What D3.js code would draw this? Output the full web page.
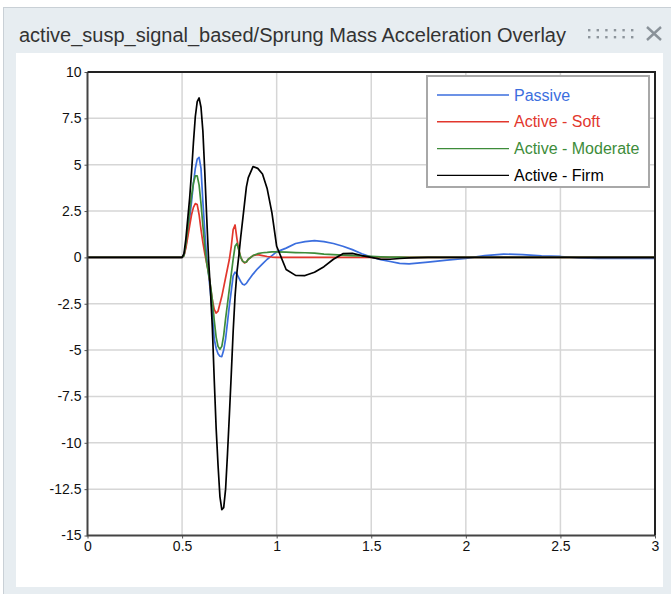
<!DOCTYPE html>
<html>
<head>
<meta charset="utf-8">
<script src="https://cdn.jsdelivr.net/npm/d3@7"></script>
<style>
  html, body { margin: 0; padding: 0; background: #fff; }
  svg { display: block; font-family: Arial, "Liberation Sans", sans-serif; }
</style>
</head>
<body>
<div id="chart"></div>
<script>
var title = "active_susp_signal_based/Sprung Mass Acceleration Overlay";
var seriesNames = ["Passive", "Active - Soft", "Active - Moderate", "Active - Firm"];
var seriesColors = ["#3b6ede", "#e2372d", "#3d8c3a", "#000000"];
var xTicks = [0, 0.5, 1, 1.5, 2, 2.5, 3];
var yTicks = [10, 7.5, 5, 2.5, 0, -2.5, -5, -7.5, -10, -12.5, -15];

// time (s)
var time = [0, 0.50, 0.51, 0.52, 0.53, 0.54, 0.55, 0.56, 0.57, 0.58, 0.59,
    0.60, 0.61, 0.62, 0.63, 0.64, 0.65, 0.66, 0.67, 0.68, 0.69,
    0.70, 0.71, 0.72, 0.73, 0.74, 0.75, 0.76, 0.77, 0.78, 0.79,
    0.80, 0.81, 0.82, 0.83, 0.84, 0.85, 0.875, 0.90, 0.925, 0.95, 0.975,
    1.00, 1.05, 1.10, 1.15, 1.20, 1.25, 1.30, 1.35, 1.40, 1.45,
    1.50, 1.55, 1.60, 1.65, 1.70, 1.80, 1.90, 2.00, 2.10, 2.20,
    2.30, 2.40, 2.50, 2.60, 2.70, 2.80, 2.90, 3.00];

var passive = [0, 0, 0.1, 0.6, 1.3, 2.1, 3.0, 4.0, 4.8, 5.3, 5.4,
    4.8, 3.0, 1.4, 0.0, -0.9, -1.9, -3.0, -4.4, -4.9, -5.2,
    -5.33, -5.35, -5.0, -4.4, -3.5, -2.6, -1.8, -1.0, -0.8, -0.9,
    -1.1, -1.3, -1.45, -1.48, -1.4, -1.25, -0.9, -0.6, -0.35, -0.1, 0.1,
    0.3, 0.5, 0.75, 0.85, 0.9, 0.85, 0.75, 0.6, 0.42, 0.2,
    0.02, -0.12, -0.22, -0.32, -0.35, -0.25, -0.15, -0.05, 0.1, 0.18,
    0.15, 0.08, 0.05, -0.03, -0.05, -0.05, -0.05, -0.05];

var soft = [0, 0, 0.1, 0.5, 1.1, 1.7, 2.3, 2.7, 2.9, 2.85, 2.3,
    1.5, 0.8, 0.2, -0.3, -0.8, -1.6, -2.3, -2.8, -3.0, -2.9,
    -2.5, -2.1, -1.6, -1.1, -0.6, -0.1, 0.6, 1.5, 1.75, 1.0,
    0.4, 0.0, -0.2, -0.3, -0.25, -0.1, 0.1, 0.15, 0.1, 0.05, 0.02,
    0, 0, 0, 0, 0, 0, 0, 0, 0, 0,
    0, 0, 0, 0, 0, 0, 0, 0, 0, 0,
    0, 0, 0, 0, 0, 0, 0, 0];

var moderate = [0, 0, 0.1, 0.7, 1.6, 2.5, 3.3, 4.0, 4.4, 4.4, 3.9,
    2.9, 1.7, 0.6, -0.3, -0.9, -1.5, -2.3, -3.4, -4.3, -4.8,
    -4.95, -4.8, -4.2, -3.3, -2.5, -1.7, -0.9, -0.1, 0.6, 0.75,
    0.4, 0.0, -0.2, -0.27, -0.25, -0.1, 0.1, 0.2, 0.25, 0.27, 0.3,
    0.3, 0.28, 0.26, 0.25, 0.23, 0.18, 0.15, 0.12, 0.1, 0.08,
    0.05, 0.03, 0.02, 0.01, 0, 0, 0, 0, 0, 0,
    0, 0, 0, 0, 0, 0, 0, 0];

var firm = [0, 0, 0.2, 1.0, 2.1, 3.2, 4.6, 6.2, 7.6, 8.4, 8.6,
    8.1, 6.8, 4.6, 2.2, -0.1, -1.8, -3.8, -6.6, -9.2, -11.2,
    -12.9, -13.6, -13.5, -12.5, -10.6, -8.5, -6.3, -4.0, -2.1, -0.8,
    0.1, 1.1, 2.0, 2.9, 3.8, 4.3, 4.9, 4.8, 4.5, 3.7, 2.4,
    0.6, -0.65, -0.97, -0.98, -0.8, -0.5, -0.1, 0.2, 0.22, 0.1,
    0.0, -0.1, -0.1, -0.06, -0.03, 0, 0, 0, 0, 0,
    0, 0, 0, 0, 0, 0, 0, 0];

var seriesValues = [passive, soft, moderate, firm];

var W = 671, H = 594;
var plot = {left: 87.5, right: 655, top: 72, bottom: 535.5};

var svg = d3.select("#chart").append("svg")
    .attr("width", W)
    .attr("height", H);

// window frame
svg.append("rect")
    .attr("x", 3.5).attr("y", 7.5)
    .attr("width", W).attr("height", H)
    .attr("fill", "#e7edf1")
    .attr("stroke", "#c9d0d6")
    .attr("stroke-width", 1);
svg.append("rect")
    .attr("x", 16).attr("y", 53)
    .attr("width", 647).attr("height", 534)
    .attr("fill", "#fff");

svg.append("text")
    .attr("x", 19).attr("y", 42)
    .attr("font-size", 20)
    .attr("fill", "#333")
    .text(title);

// grip dots and close icon
var grip = svg.append("g").attr("fill", "#8d959c");
[0, 1, 2, 3, 4, 5].forEach(function (c) {
    [30, 37].forEach(function (r) {
        grip.append("rect")
            .attr("x", 588 + c * 8.6).attr("y", r - 1)
            .attr("width", 2.4).attr("height", 2.4);
    });
});
svg.append("path")
    .attr("d", "M647,27L661,40M661,27L647,40")
    .attr("stroke", "#8a9299")
    .attr("stroke-width", 2.4)
    .attr("fill", "none");

var x = d3.scaleLinear().domain([0, 3]).range([plot.left, plot.right]);
var y = d3.scaleLinear().domain([-15, 10]).range([plot.bottom, plot.top]);

// grid
var grid = svg.append("g").attr("stroke", "#d6d6d6").attr("stroke-width", 1.5);
grid.selectAll(".vx").data(xTicks.slice(1, -1)).enter().append("line")
    .attr("x1", function (d) { return x(d); })
    .attr("x2", function (d) { return x(d); })
    .attr("y1", plot.top).attr("y2", plot.bottom);
grid.selectAll(".hy").data(yTicks.slice(1, -1)).enter().append("line")
    .attr("y1", function (d) { return y(d); })
    .attr("y2", function (d) { return y(d); })
    .attr("x1", plot.left).attr("x2", plot.right);

svg.append("clipPath").attr("id", "clip")
    .append("rect")
    .attr("x", plot.left).attr("y", plot.top)
    .attr("width", plot.right - plot.left)
    .attr("height", plot.bottom - plot.top);

var line = d3.line()
    .x(function (d, i) { return x(time[i]); })
    .y(function (d) { return y(d); });

svg.append("g").attr("clip-path", "url(#clip)")
    .selectAll("path")
    .data(seriesValues).enter()
    .append("path")
    .attr("d", line)
    .attr("fill", "none")
    .attr("stroke", function (d, i) { return seriesColors[i]; })
    .attr("stroke-width", 1.7)
    .attr("stroke-linejoin", "round");

// axes
var xAxis = svg.append("g")
    .attr("transform", "translate(0," + plot.bottom + ")")
    .call(d3.axisBottom(x).tickValues(xTicks).tickSize(3).tickPadding(3)
        .tickFormat(function (d) { return String(d); }));
var yAxis = svg.append("g")
    .attr("transform", "translate(" + plot.left + ",0)")
    .call(d3.axisLeft(y).tickValues(yTicks).tickSize(3).tickPadding(3)
        .tickFormat(function (d) { return String(d); }));
[xAxis, yAxis].forEach(function (a) {
    a.select(".domain").remove();
    a.selectAll(".tick line").attr("stroke", "#555");
    a.selectAll(".tick text")
        .attr("font-size", 14)
        .attr("font-family", "Arial, 'Liberation Sans', sans-serif")
        .attr("fill", "#111");
});

// frame
svg.append("path")
    .attr("d", "M" + plot.left + "," + plot.top + "V" + plot.bottom + "H" + plot.right)
    .attr("stroke", "#444").attr("stroke-width", 2).attr("fill", "none");
svg.append("path")
    .attr("d", "M" + plot.left + "," + plot.top + "H" + plot.right + "V" + plot.bottom)
    .attr("stroke", "#222").attr("stroke-width", 2).attr("fill", "none");

// legend
var legend = svg.append("g");
legend.append("rect")
    .attr("x", 427).attr("y", 76)
    .attr("width", 222).attr("height", 111)
    .attr("fill", "#fff")
    .attr("stroke", "#a8a8a8")
    .attr("stroke-width", 2);
var rows = legend.selectAll(".row").data(seriesNames).enter().append("g")
    .attr("transform", function (d, i) { return "translate(0," + (95 + i * 26.8) + ")"; });
rows.append("line")
    .attr("x1", 437).attr("x2", 509)
    .attr("stroke", function (d, i) { return seriesColors[i]; })
    .attr("stroke-width", 1.4);
rows.append("text")
    .attr("x", 514).attr("y", 5.5)
    .attr("font-size", 16)
    .attr("fill", function (d, i) { return seriesColors[i]; })
    .text(function (d) { return d; });
</script>
</body>
</html>
